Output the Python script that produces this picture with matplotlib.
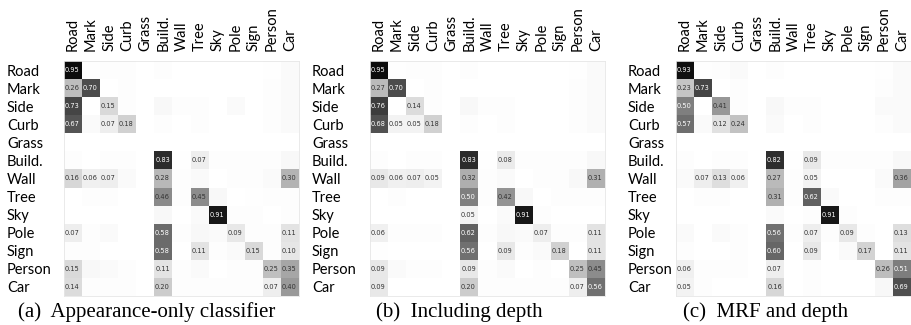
import numpy as np
import matplotlib
matplotlib.use("Agg")
import matplotlib.pyplot as plt

classes = ["Road", "Mark", "Side", "Curb", "Grass", "Build.", "Wall",
           "Tree", "Sky", "Pole", "Sign", "Person", "Car"]

# rows = true class, cols = predicted class
conf_a = np.array([
    [0.95, 0.005, 0.01, 0.01, 0, 0.01, 0, 0, 0, 0, 0, 0.005, 0.02],
    [0.26, 0.70, 0, 0.01, 0, 0, 0, 0, 0, 0, 0, 0.01, 0.02],
    [0.73, 0, 0.15, 0.01, 0, 0.03, 0.01, 0.01, 0, 0.02, 0, 0.01, 0.02],
    [0.67, 0.02, 0.07, 0.18, 0, 0.01, 0, 0.01, 0, 0, 0, 0.01, 0.02],
    [0, 0, 0, 0, 0, 0, 0, 0, 0, 0, 0, 0, 0],
    [0.01, 0, 0.01, 0.01, 0, 0.83, 0.005, 0.07, 0.01, 0.01, 0.01, 0.01, 0.03],
    [0.16, 0.06, 0.07, 0.02, 0, 0.28, 0.01, 0.02, 0, 0.01, 0.01, 0.02, 0.30],
    [0, 0.01, 0.01, 0, 0, 0.46, 0.01, 0.45, 0.03, 0, 0.005, 0.01, 0.01],
    [0, 0, 0, 0, 0, 0.03, 0, 0.02, 0.91, 0.01, 0.01, 0, 0.01],
    [0.07, 0.01, 0.02, 0, 0, 0.58, 0.01, 0.03, 0.02, 0.09, 0.01, 0.01, 0.11],
    [0.01, 0.01, 0, 0, 0, 0.58, 0, 0.11, 0.01, 0.02, 0.15, 0.01, 0.10],
    [0.15, 0.03, 0.02, 0.01, 0, 0.11, 0.01, 0.02, 0, 0.01, 0.01, 0.25, 0.35],
    [0.14, 0.01, 0.01, 0.01, 0, 0.20, 0.01, 0.01, 0.01, 0.01, 0.01, 0.07, 0.40],
])

conf_b = np.array([
    [0.95, 0.005, 0.01, 0.01, 0, 0.01, 0, 0, 0, 0, 0, 0.005, 0.02],
    [0.27, 0.70, 0, 0.01, 0, 0, 0, 0, 0, 0, 0, 0.01, 0.02],
    [0.76, 0, 0.14, 0.01, 0, 0.03, 0.01, 0.01, 0, 0, 0, 0.01, 0.02],
    [0.68, 0.05, 0.05, 0.18, 0, 0.01, 0, 0.01, 0, 0, 0, 0.01, 0.02],
    [0, 0, 0, 0, 0, 0, 0, 0, 0, 0, 0, 0, 0],
    [0.01, 0, 0.01, 0.01, 0, 0.83, 0.005, 0.08, 0.01, 0.01, 0.01, 0.01, 0.03],
    [0.09, 0.06, 0.07, 0.05, 0, 0.32, 0.01, 0.02, 0, 0.01, 0.01, 0.03, 0.31],
    [0, 0.01, 0, 0, 0, 0.50, 0.01, 0.42, 0.03, 0, 0.01, 0.01, 0.01],
    [0, 0, 0, 0, 0, 0.05, 0, 0.02, 0.91, 0.01, 0, 0, 0],
    [0.06, 0.01, 0.01, 0.01, 0, 0.62, 0.01, 0.03, 0.02, 0.07, 0.01, 0.01, 0.11],
    [0.005, 0, 0, 0, 0, 0.56, 0, 0.09, 0.01, 0.02, 0.18, 0, 0.11],
    [0.09, 0.02, 0.01, 0.01, 0, 0.09, 0.01, 0.02, 0, 0.01, 0, 0.25, 0.45],
    [0.09, 0, 0, 0, 0, 0.20, 0.01, 0.01, 0.01, 0.01, 0.01, 0.07, 0.56],
])

conf_c = np.array([
    [0.93, 0.005, 0.01, 0.02, 0, 0.01, 0, 0, 0, 0, 0, 0.005, 0.02],
    [0.23, 0.73, 0, 0.01, 0, 0, 0, 0, 0, 0, 0, 0.01, 0.02],
    [0.50, 0, 0.41, 0.01, 0, 0.03, 0.01, 0.01, 0, 0, 0, 0.02, 0.02],
    [0.57, 0.02, 0.12, 0.24, 0, 0.02, 0, 0.01, 0, 0, 0, 0.01, 0.02],
    [0, 0, 0, 0, 0, 0, 0, 0, 0, 0, 0, 0, 0],
    [0.01, 0, 0.01, 0.01, 0, 0.82, 0.005, 0.09, 0.01, 0.01, 0.01, 0.01, 0.03],
    [0.02, 0.07, 0.13, 0.06, 0, 0.27, 0.01, 0.05, 0, 0, 0, 0.02, 0.36],
    [0, 0.01, 0.01, 0, 0, 0.31, 0.01, 0.62, 0.02, 0, 0, 0.01, 0.01],
    [0, 0, 0, 0, 0, 0.02, 0, 0.01, 0.91, 0.01, 0, 0, 0],
    [0.02, 0, 0.02, 0.01, 0, 0.56, 0.01, 0.07, 0.01, 0.09, 0.01, 0, 0.13],
    [0.01, 0, 0, 0.01, 0, 0.60, 0, 0.09, 0, 0.02, 0.17, 0, 0.11],
    [0.06, 0.01, 0.01, 0.01, 0, 0.07, 0, 0.01, 0, 0, 0, 0.26, 0.51],
    [0.05, 0.01, 0, 0, 0, 0.16, 0, 0.01, 0, 0, 0, 0.03, 0.69],
])

captions = ["(a)  Appearance-only classifier", "(b)  Including depth", "(c)  MRF and depth"]

fig = plt.figure(figsize=(9.11, 3.25), dpi=100)
W, H = 911.0, 325.0

# pixel layout of each panel: (matrix left, row label x, caption center)
panels = [(64, 7, 147), (370, 312, 459), (676, 628, 766)]
size = 235
top = 61

for conf, cap, (mx, lx, cx) in zip([conf_a, conf_b, conf_c], captions, panels):
    ax = fig.add_axes([mx / W, (H - top - size) / H, size / W, size / H])
    n = len(classes)
    ax.imshow(conf, cmap="gray_r", vmin=0, vmax=1, interpolation="nearest",
              aspect="auto")
    for i in range(n):
        for j in range(n):
            v = conf[i, j]
            if v >= 0.05:
                ax.text(j - 0.05, i, f"{v:.2f}", ha="center", va="center",
                        fontsize=4.8, color="white" if v >= 0.47 else "#333333")
    ax.xaxis.tick_top()
    ax.set_xticks(range(n))
    ax.set_xticklabels(classes, rotation=90, fontsize=10.5, family="Lato")
    ax.set_yticks(range(n))
    ax.set_yticklabels(classes, fontsize=10.5, family="Lato", ha="left")
    ax.tick_params(axis="x", length=0, pad=7)
    ax.tick_params(axis="y", length=0, pad=(mx - lx) * 0.72)
    for s in ax.spines.values():
        s.set_color("#e6e6e6")
        s.set_linewidth(0.6)
    fig.text(cx / W, (H - 312) / H, cap, ha="center", va="center",
             fontsize=15, family="Liberation Serif")

fig.savefig("out.png", dpi=100)
